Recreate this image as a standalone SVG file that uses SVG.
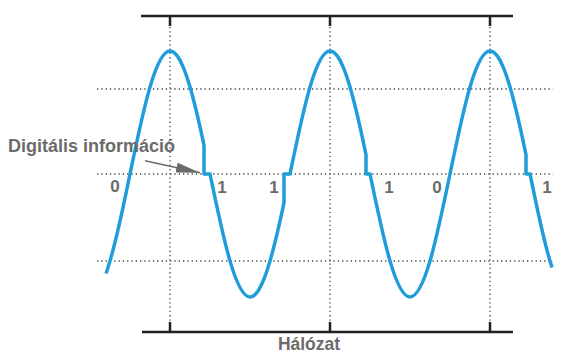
<svg xmlns="http://www.w3.org/2000/svg" width="568" height="359" viewBox="0 0 568 359">
<style>
.axis{stroke:#222;stroke-width:2.5;fill:none}
.dot{stroke:#444;stroke-width:1.3;stroke-dasharray:1.3 3;fill:none}
.wave{stroke:#1f9dd9;stroke-width:3.5;fill:none;stroke-linejoin:round}
.lbl{font-family:"Liberation Sans",Arial,sans-serif;font-weight:bold;fill:#6b6b6b}
.arrow{stroke:#6b6b6b;stroke-width:1.5;fill:none}
</style>
<defs>
<marker id="ah" viewBox="0 0 24 10" refX="24" refY="5" markerWidth="24" markerHeight="10" markerUnits="userSpaceOnUse" orient="auto">
<path d="M0,0 L24,5 L0,10 z" fill="#6b6b6b"/>
</marker>
</defs>
<g id="grid">
<line class="dot" x1="97" y1="89" x2="553" y2="89"/>
<line class="dot" x1="97" y1="174" x2="553" y2="174"/>
<line class="dot" x1="97" y1="261" x2="553" y2="261"/>
<line class="dot" x1="170" y1="27" x2="170" y2="321"/>
<line class="dot" x1="330" y1="27" x2="330" y2="321"/>
<line class="dot" x1="490" y1="27" x2="490" y2="321"/>
</g>
<g id="frame">
<line class="axis" x1="141" y1="16" x2="513" y2="16"/>
<line class="axis" x1="170" y1="16" x2="170" y2="26"/>
<line class="axis" x1="330" y1="16" x2="330" y2="26"/>
<line class="axis" x1="490" y1="16" x2="490" y2="26"/>
<line class="axis" x1="142" y1="332" x2="513" y2="332"/>
<line class="axis" x1="170" y1="322" x2="170" y2="332"/>
<line class="axis" x1="330" y1="322" x2="330" y2="332"/>
<line class="axis" x1="490" y1="322" x2="490" y2="332"/>
</g>
<g id="signal">
<path class="wave" d="M106,273.51 L108,267.53 L110,260.97 L112,253.88 L114,246.3 L116,238.27 L118,229.84 L120,221.07 L122,212.01 L124,202.71 L126,193.24 L128,183.65 L130,174 C143.05,110.99 155.52,51 170,51 L172,51.38 L174,52.51 L176,54.4 L178,57.02 L180,60.36 L182,64.41 L184,69.13 L186,74.49 L188,80.47 L190,87.03 L192,94.12 L194,101.7 L196,109.73 L198,118.16 L200,126.93 L202,135.99 L204,145.29 L204,174 L210,174 C223.05,237.01 235.52,297 250,297 L252,296.62 L254,295.49 L256,293.6 L258,290.98 L260,287.64 L262,283.59 L264,278.87 L266,273.51 L268,267.53 L270,260.97 L272,253.88 L274,246.3 L276,238.27 L278,229.84 L280,221.07 L282,212.01 L284,202.71 L284,174 L290,174 C303.05,110.99 315.52,51 330,51 L332,51.38 L334,52.51 L336,54.4 L338,57.02 L340,60.36 L342,64.41 L344,69.13 L346,74.49 L348,80.47 L350,87.03 L352,94.12 L354,101.7 L356,109.73 L358,118.16 L360,126.93 L362,135.99 L364,145.29 L366,154.76 L366,174 L370,174 C383.05,237.01 395.52,297 410,297 C424.48,297 436.95,237.01 450,174 C463.05,110.99 475.52,51 490,51 L492,51.38 L494,52.51 L496,54.4 L498,57.02 L500,60.36 L502,64.41 L504,69.13 L506,74.49 L508,80.47 L510,87.03 L512,94.12 L514,101.7 L516,109.73 L518,118.16 L520,126.93 L522,135.99 L524,145.29 L526,154.76 L526,174 L530,174 L532,183.65 L534,193.24 L536,202.71 L538,212.01 L540,221.07 L542,229.84 L544,238.27 L546,246.3 L548,253.88 L550,260.97 L552,267.53"/>
</g>
<g id="connectors">
<line class="arrow" x1="145" y1="160.7" x2="200" y2="172.7" marker-end="url(#ah)"/>
</g>
<g id="label-digital">
<text class="lbl" x="8" y="152" font-size="18">Digitális információ</text>
</g>
<g id="bits" class="lbl" font-size="17" text-anchor="middle">
<text x="115" y="192">0</text>
<text x="222" y="193">1</text>
<text x="274" y="193">1</text>
<text x="389" y="193">1</text>
<text x="437" y="193">0</text>
<text x="547" y="193">1</text>
</g>
<g id="label-network">
<text class="lbl" x="309" y="350" font-size="17.5" text-anchor="middle">Hálózat</text>
</g>
</svg>
